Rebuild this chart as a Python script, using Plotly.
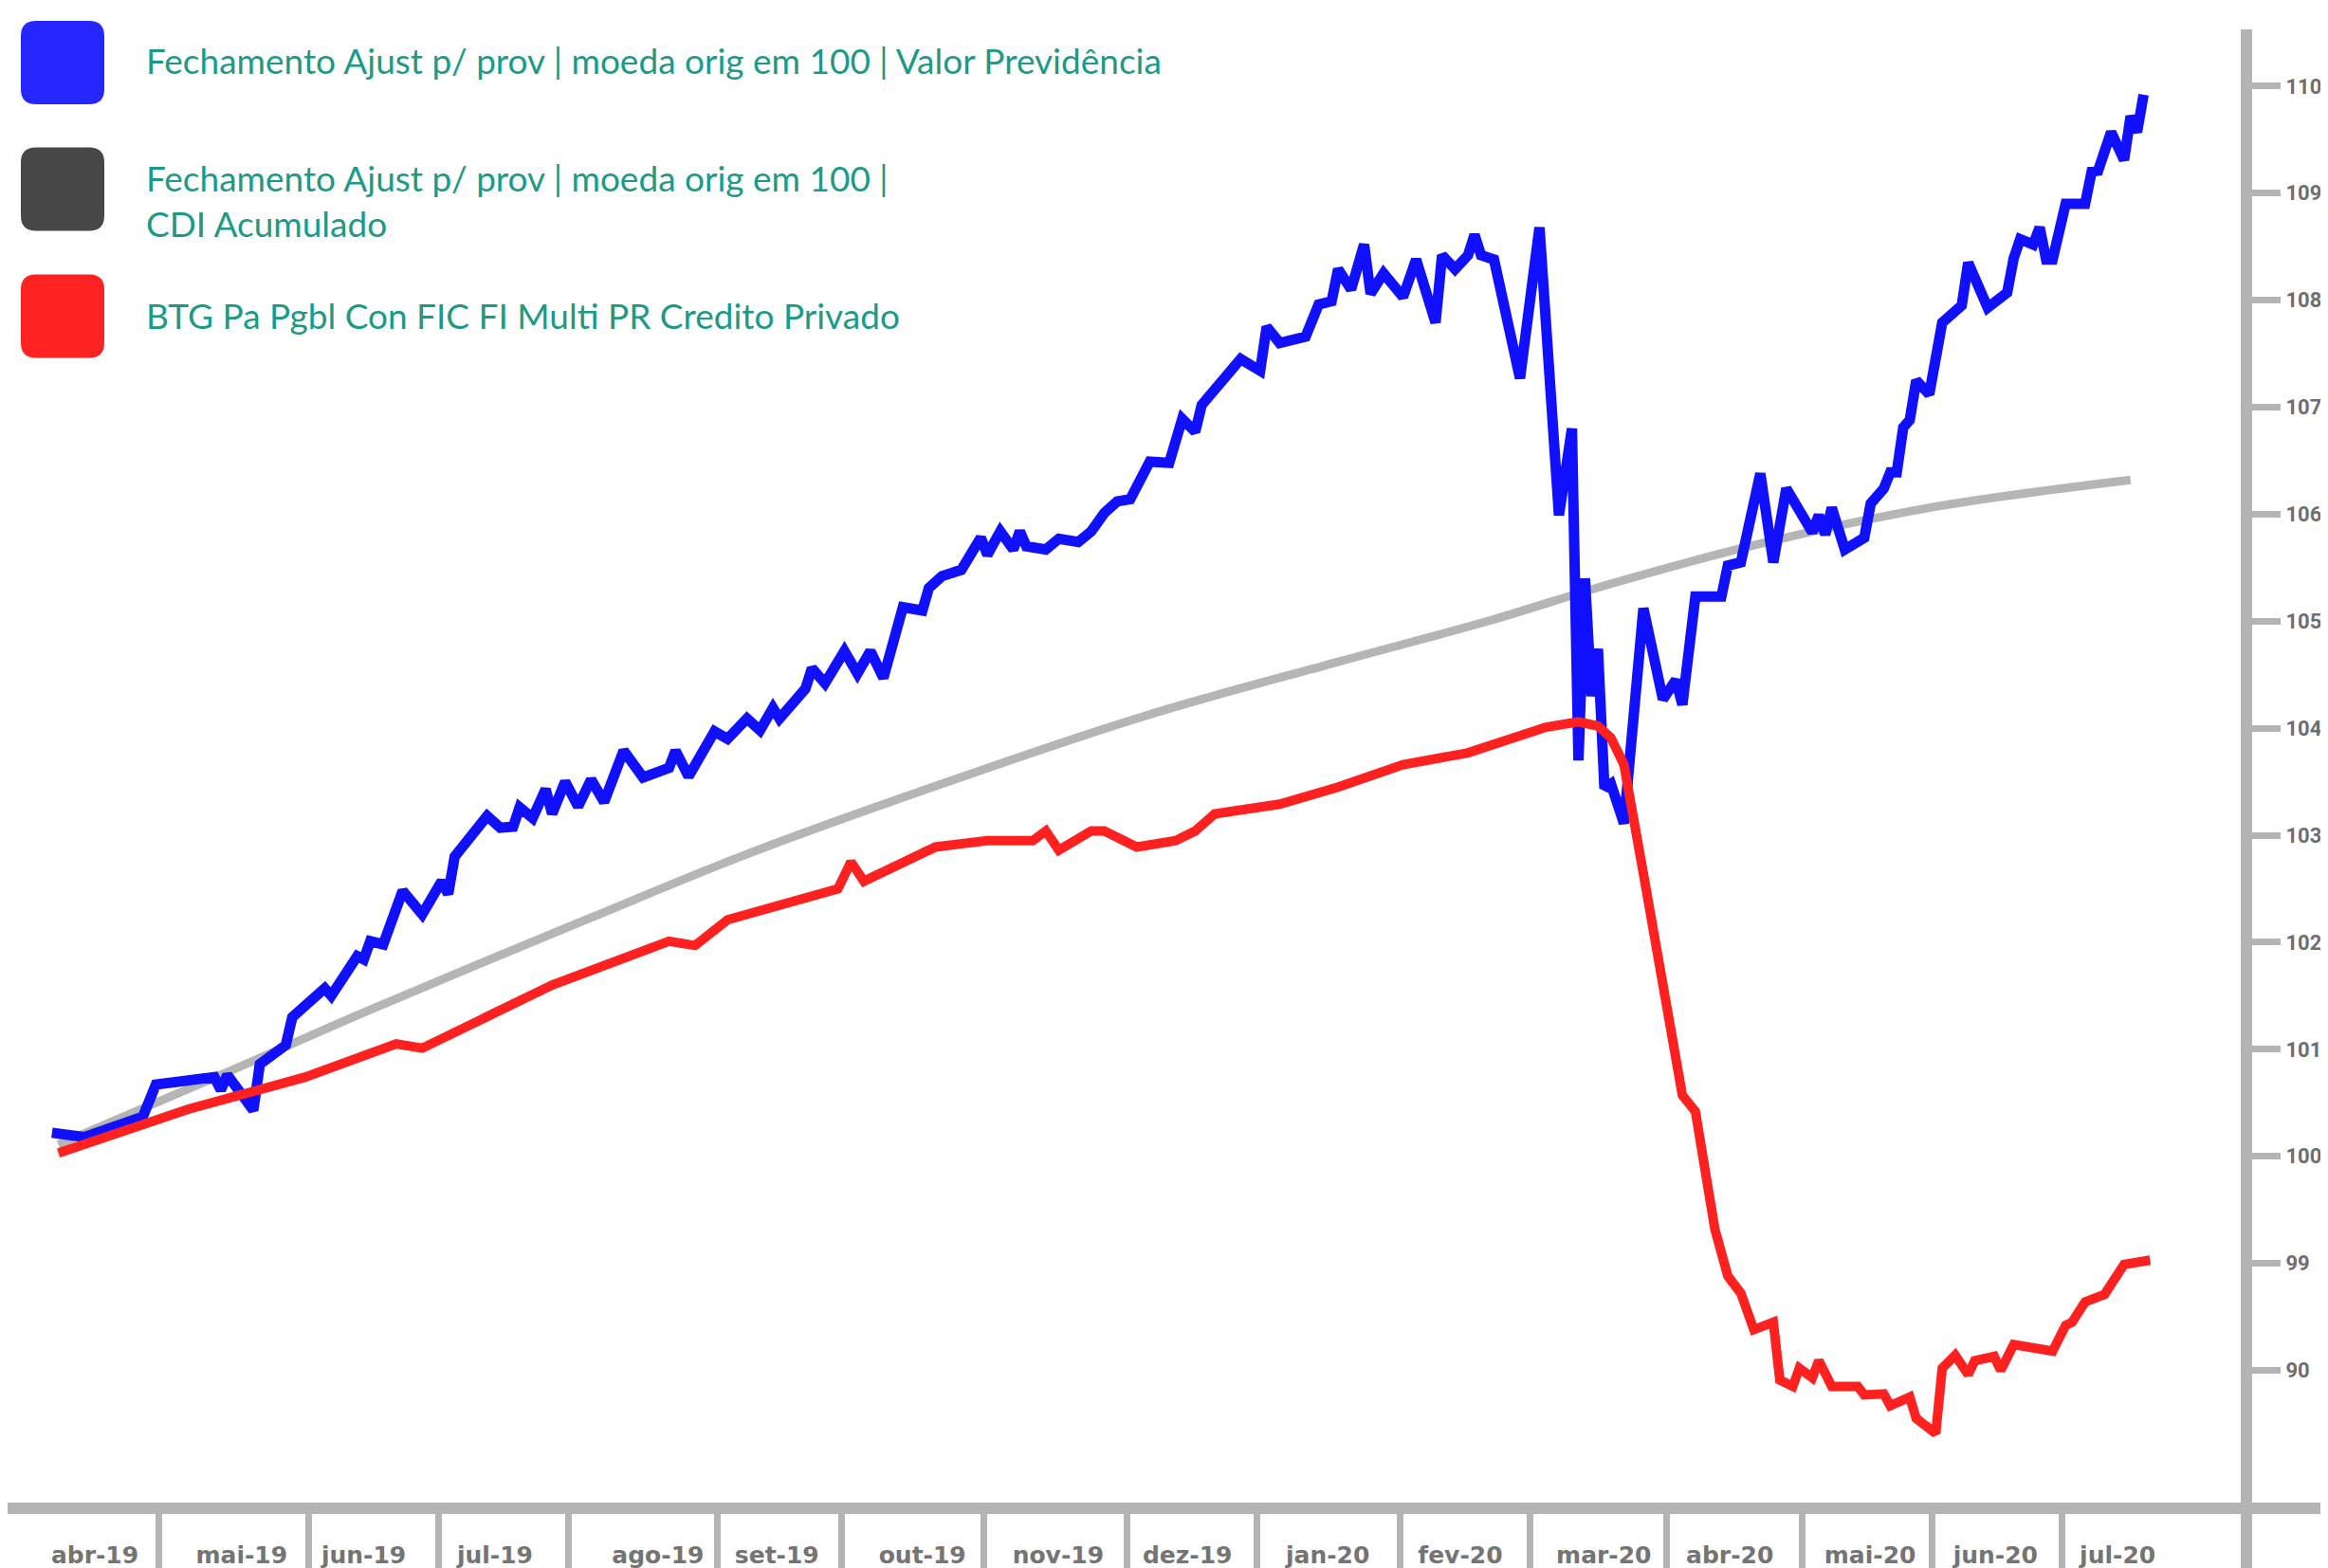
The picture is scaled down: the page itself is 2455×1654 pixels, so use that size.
import plotly.graph_objects as go

# sessao (indice do pregao) e valor da cota base 100
blue_x = [0, 5, 14, 16, 25, 26, 27, 31, 32, 36, 37, 42, 43, 47, 48, 49, 51, 54, 57, 60,
          61, 62, 67, 69, 71, 72, 74, 76, 77, 79, 81, 83, 85, 88, 91, 95, 96, 98, 102, 104,
          107, 109, 111, 112, 116, 117, 119, 122, 124, 126, 128, 131, 134, 135, 137, 140, 143, 144, 146, 148,
          149, 150, 153, 155, 158, 160, 162, 164, 166, 169, 172, 174, 176, 177, 183, 186, 187, 189, 193, 195,
          197, 198, 200, 202, 203, 205, 208, 210, 213, 214, 216, 218, 219, 220, 222, 226, 229, 232, 234, 235,
          236, 237, 238, 239, 240, 242, 245, 246, 248, 250, 251, 253, 257, 258, 260, 263, 265, 267, 271, 272,
          273, 274, 276, 279, 280, 282, 283, 284, 285, 286, 287, 289, 291, 294, 295, 298, 301, 302, 303, 305,
          306, 307, 308, 310, 313, 314, 315, 317, 319, 320, 321, 322]
blue_y = [100.22, 100.18, 100.37, 100.67, 100.74, 100.62, 100.76, 100.43, 100.86, 101.04,
          101.30, 101.57, 101.50, 101.87, 101.84, 102.01, 101.98, 102.48, 102.26, 102.57,
          102.45, 102.80, 103.18, 103.07, 103.08, 103.26, 103.16, 103.43, 103.20, 103.50,
          103.27, 103.52, 103.31, 103.79, 103.54, 103.63, 103.79, 103.55, 103.97, 103.90,
          104.09, 103.98, 104.19, 104.09, 104.37, 104.56, 104.42, 104.72, 104.51, 104.72,
          104.47, 105.13, 105.10, 105.31, 105.42, 105.48, 105.78, 105.62, 105.84, 105.67,
          105.84, 105.70, 105.67, 105.77, 105.74, 105.84, 106.01, 106.12, 106.14, 106.49,
          106.48, 106.89, 106.77, 107.02, 107.45, 107.34, 107.75, 107.60, 107.66, 107.96,
          107.99, 108.29, 108.10, 108.52, 108.06, 108.25, 108.03, 108.38, 107.79, 108.42,
          108.29, 108.42, 108.61, 108.42, 108.38, 107.27, 108.68, 105.99, 106.80, 103.70,
          105.40, 104.30, 104.74, 103.44, 103.48, 103.11, 105.12, 104.85, 104.27, 104.45,
          104.22, 105.23, 105.23, 105.52, 105.55, 106.38, 105.55, 106.24, 105.83, 105.99,
          105.81, 106.06, 105.67, 105.78, 106.10, 106.24, 106.39, 106.39, 106.81, 106.88,
          107.25, 107.12, 107.79, 107.95, 108.35, 107.93, 108.07, 108.39, 108.57, 108.52,
          108.68, 108.38, 108.38, 108.90, 108.90, 109.20, 109.21, 109.57, 109.31, 109.72,
          109.57, 109.92]

gray_x = [1, 26, 49, 83, 106, 129, 168, 198, 221, 240, 262, 289, 320]
gray_y = [100.11, 100.76, 101.37, 102.23, 102.80, 103.31, 104.11, 104.62, 105.00, 105.35,
          105.71, 106.06, 106.32]

red_x = [1, 21, 39, 53, 57, 77, 95, 99, 104, 111, 121, 123, 125, 136, 144, 151, 153, 155, 160, 162,
         167, 173, 176, 179, 189, 198, 208, 218, 225, 230, 235, 238, 240, 242, 245, 248, 251, 253, 256, 257,
         258, 260, 262, 265, 266, 268, 269, 271, 272, 274, 278, 279, 282, 283, 286, 287, 290, 291, 293, 295,
         296, 299, 300, 302, 308, 310, 311, 313, 316, 319, 323]
red_y = [100.03, 100.44, 100.74, 101.05, 101.01, 101.60, 102.01, 101.97, 102.21, 102.32,
         102.50, 102.75, 102.57, 102.89, 102.95, 102.95, 103.04, 102.86, 103.04, 103.04,
         102.89, 102.95, 103.04, 103.20, 103.29, 103.45, 103.66, 103.77, 103.90, 104.01,
         104.06, 104.02, 103.91, 103.66, 102.64, 101.65, 100.57, 100.42, 99.32, 99.10,
         98.88, 98.72, 98.38, 98.45, 97.91, 97.85, 98.02, 97.93, 98.09, 97.85,
         97.85, 97.77, 97.78, 97.67, 97.75, 97.55, 97.41, 98.02, 98.14, 97.96,
         98.09, 98.13, 98.00, 98.24, 98.18, 98.42, 98.45, 98.64, 98.71, 98.99,
         99.03]

month_labels = ["abr-19", "mai-19", "jun-19", "jul-19", "ago-19", "set-19", "out-19", "nov-19",
                "dez-19", "jan-20", "fev-20", "mar-20", "abr-20", "mai-20", "jun-20", "jul-20"]
month_label_pos = [6.6, 29.2, 48.0, 68.2, 93.3, 111.6, 134.0, 154.9, 174.8, 196.4, 216.8, 238.9,
                   258.3, 279.9, 299.2, 318.0]
month_breaks = [16.5, 39.5, 59.5, 79.5, 102.5, 121.5, 143.5, 165.5, 185.5, 207.5, 227.5, 248.5,
                269.5, 289.5, 309.5]

y_tickvals = [110, 109, 108, 107, 106, 105, 104, 103, 102, 101, 100, 99, 98]
y_ticktext = ["110", "109", "108", "107", "106", "105", "104", "103", "102", "101", "100", "99", "90"]

legend_names = ["Fechamento Ajust p/ prov | moeda orig em 100 | Valor Previdência",
                "Fechamento Ajust p/ prov | moeda orig em 100 |<br>CDI Acumulado",
                "BTG Pa Pgbl Con FIC FI Multi PR Credito Privado"]
legend_colors = ["#2626ff", "#474747", "#ff2222"]

# a pagina tem 8px de margem no body: a figura fica deslocada
OFF = 8
W, H = 2455 - OFF, 1654 - OFF
ML, MR, MT, MB = 0, 92, 31 - OFF, 69
AXIS_GRAY = "#b4b4b4"
LW = 12
pw = W - ML - MR
ph = H - MT - MB


def px_x(x):
    return (x - OFF - ML) / pw


def px_y(y):
    return (H - MB - (y - OFF)) / ph


fig = go.Figure()
fig.add_trace(go.Scatter(x=gray_x, y=gray_y, mode="lines", line=dict(color="#b5b5b5", width=9, shape="spline"),
                         name="CDI Acumulado"))
fig.add_trace(go.Scatter(x=blue_x, y=blue_y, mode="lines", line=dict(color="#1010ff", width=11),
                         name="Valor Previdência"))
fig.add_trace(go.Scatter(x=red_x, y=red_y, mode="lines", line=dict(color="#ff2020", width=10),
                         name="BTG Pa Pgbl"))

fig.update_xaxes(
    range=[-6.83, 336.96], showgrid=False, zeroline=False,
    showline=True, linecolor=AXIS_GRAY, linewidth=LW,
    tickmode="array", tickvals=month_label_pos, ticktext=month_labels, ticks="",
    tickfont=dict(family="DejaVu Sans", size=25, color="#747474", weight="bold"),
    ticklabelstandoff=22,
    minor=dict(tickmode="array", tickvals=month_breaks, ticks="outside", ticklen=60,
               tickwidth=7, tickcolor=AXIS_GRAY),
)
fig.update_yaxes(
    range=[96.764, 110.53], side="right", showgrid=False, zeroline=False,
    showline=True, linecolor=AXIS_GRAY, linewidth=LW,
    tickmode="array", tickvals=y_tickvals, ticktext=y_ticktext,
    ticks="outside", ticklen=30, tickwidth=7, tickcolor=AXIS_GRAY,
    tickfont=dict(family="Roboto", size=22, color="#6e6e6e", weight="bold"),
    ticklabelstandoff=1,
)

# eixos continuam alem da area do grafico (como no original)
fig.add_shape(type="line", xref="paper", yref="paper", ysizemode="pixel", yanchor=0,
              x0=1, x1=W / pw, y0=-LW / 2, y1=-LW / 2,
              line=dict(color=AXIS_GRAY, width=LW), layer="below")
fig.add_shape(type="line", xref="paper", yref="paper", xsizemode="pixel", xanchor=1,
              x0=LW / 2, x1=LW / 2, y0=0, y1=-MB / ph,
              line=dict(color=AXIS_GRAY, width=LW), layer="below")

# legenda com quadrados arredondados
swatch = ("M -28,-44 L 28,-44 Q 44,-44 44,-28 L 44,28 Q 44,44 28,44 L -28,44 "
          "Q -44,44 -44,28 L -44,-28 Q -44,-44 -28,-44 Z")
swatch_centers = [66, 199.5, 333.5]
text_centers = [64, 212, 332]
for name, col, sc, tc in zip(legend_names, legend_colors, swatch_centers, text_centers):
    fig.add_shape(type="path", xref="paper", yref="paper", xsizemode="pixel", ysizemode="pixel",
                  xanchor=px_x(66), yanchor=px_y(sc), path=swatch,
                  fillcolor=col, line=dict(width=0))
    fig.add_annotation(x=px_x(152), y=px_y(tc), xref="paper", yref="paper",
                       xanchor="left", yanchor="middle", align="left", showarrow=False, text=name,
                       font=dict(family="Lato", size=37, color="#1d9a86"))

fig.update_layout(
    width=W, height=H, margin=dict(l=ML, r=MR, t=MT, b=MB),
    paper_bgcolor="white", plot_bgcolor="white", showlegend=False,
)

fig.write_html("out.html")
